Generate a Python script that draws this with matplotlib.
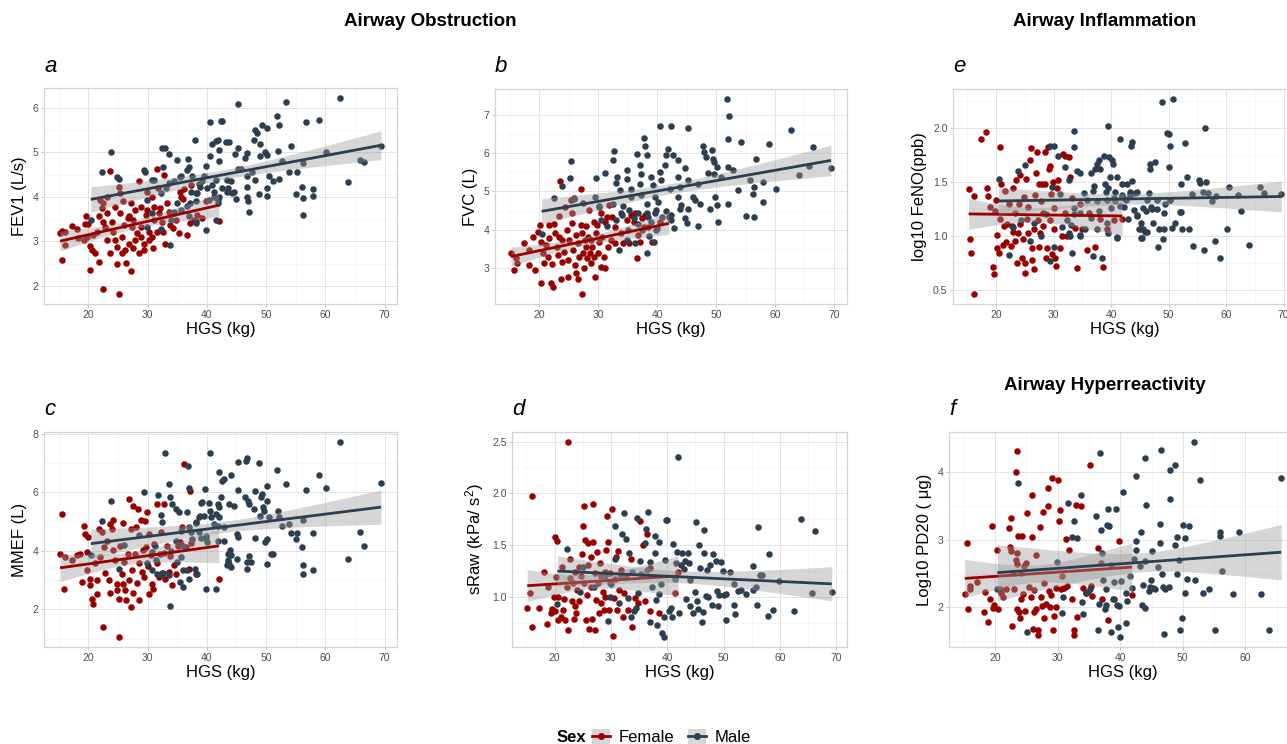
import numpy as np
import matplotlib
matplotlib.use("Agg")
import matplotlib.pyplot as plt
from matplotlib.ticker import MultipleLocator, FormatStrFormatter
from matplotlib.patches import Patch
from matplotlib.lines import Line2D

plt.rcParams['font.family'] = ['Liberation Sans', 'DejaVu Sans']
plt.rcParams['mathtext.fontset'] = 'custom'
plt.rcParams['mathtext.rm'] = 'Liberation Sans'
plt.rcParams['mathtext.it'] = 'Liberation Sans:italic'

female_col = "#990000"
male_col = "#2C3E50"

# (HGS kg, value)
fev1_female = [(15.2,3.18),(15.5,3.24),(16.0,3.22),(15.6,2.58),(16.0,2.92),(17.2,3.35),(18.0,3.27),(18.3,3.07),
    (19.6,3.57),(19.4,3.39),(20.0,3.4),(19.8,3.1),(20.2,2.9),(20.3,2.35),(20.6,2.8),(21.1,2.73),(21.4,3.22),
    (21.7,3.56),(21.8,2.54),(22.4,1.92),(22.3,3.74),(22.5,3.86),(22.8,3.33),(23.1,3.63),(23.2,3.03),(23.7,4.59),
    (23.6,2.73),(24.0,3.44),(24.2,3.22),(24.5,3.03),(24.9,2.5),(25.1,1.81),(25.4,4.08),(25.3,3.63),(25.6,3.1),
    (25.9,3.9),(26.0,3.37),(26.2,2.8),(26.4,2.51),(26.8,2.95),(26.9,3.56),(27.1,2.34),(27.2,3.86),(27.3,3.33),
    (27.5,2.84),(27.9,3.71),(28.2,3.18),(28.5,2.73),(28.6,4.35),(28.8,3.78),(28.9,3.33),(29.3,2.94),(29.4,2.8),
    (29.8,3.59),(29.9,4.12),(30.2,3.22),(30.3,3.03),(30.7,4.0),(30.9,2.84),(31.1,3.48),(31.6,4.62),(31.7,4.2),
    (31.9,3.63),(32.1,3.74),(32.4,3.44),(32.6,3.22),(32.8,4.5),(33.2,3.86),(33.6,3.67),(33.8,3.37),(34.3,3.29),
    (34.7,3.48),(35.3,3.18),(35.5,4.12),(35.7,4.0),(36.0,3.95),(36.1,4.17),(36.7,3.14),(37.1,3.41),(37.4,4.26),
    (37.8,3.48),(38.4,3.59),(39.2,3.52),(39.8,3.9),(42.0,3.45),(22.0,3.93),(23.1,4.0),(25.1,4.23),(24.5,3.78),
    (26.6,3.52),(27.6,3.48),(29.9,3.71),(31.0,3.78),(31.6,3.22),(19.2,3.03),(20.8,3.14),(22.5,3.44),(24.8,2.88),
    (25.6,2.73),(27.9,3.03),(28.9,3.1),(30.7,3.1),(33.0,2.95)]
fev1_male = [(20.4,3.48),(22.3,4.56),(23.8,5.0),(24.9,4.44),(25.2,4.4),(29.3,4.6),(29.5,4.55),(30.8,4.38),
    (29.9,3.93),(32.5,5.11),(33.0,5.1),(32.6,4.68),(33.6,4.96),(33.8,2.92),(35.0,4.82),(35.5,4.45),(35.0,3.86),
    (34.4,3.63),(36.8,4.85),(37.0,4.67),(38.0,5.29),(37.5,4.46),(37.2,3.86),(38.1,4.08),(38.1,3.41),(39.8,3.26),
    (39.8,4.7),(39.5,4.46),(40.5,5.68),(40.5,4.93),(40.8,5.2),(40.8,4.27),(41.6,5.25),(41.6,4.38),(41.8,5.29),
    (42.0,5.06),(42.3,5.71),(42.6,5.7),(42.0,4.8),(42.0,4.0),(42.6,4.2),(43.2,5.24),(43.7,5.24),(43.4,4.38),
    (44.0,4.35),(43.4,4.12),(44.3,4.08),(45.0,3.96),(45.3,6.08),(45.3,5.11),(44.7,4.97),(45.3,4.62),(45.7,4.63),
    (46.4,4.87),(46.7,4.98),(46.7,4.46),(46.8,4.23),(46.8,4.0),(46.9,3.9),(47.1,3.65),(47.7,4.57),(47.9,5.29),
    (48.1,5.51),(48.5,5.44),(49.3,5.62),(49.0,5.19),(49.0,4.91),(48.8,4.06),(48.2,4.38),(49.9,5.0),(50.2,4.94),
    (50.1,5.55),(50.2,4.03),(50.2,4.2),(50.5,4.47),(51.1,4.35),(51.9,5.81),(52.2,5.62),(52.0,5.04),(52.2,4.41),
    (52.7,4.8),(53.4,6.14),(53.8,4.55),(54.2,5.14),(55.0,4.07),(55.3,4.55),(56.0,4.23),(56.2,4.77),(56.3,3.59),
    (56.3,3.97),(56.7,5.68),(58.0,4.18),(58.0,4.02),(59.0,5.73),(60.1,5.0),(62.5,6.23),(63.8,4.34),(65.8,4.82),
    (66.5,4.78),(69.4,5.14),(38.6,4.29),(38.9,4.23),(39.2,4.35),(41.2,4.0),(41.9,3.93),(41.6,3.48),
    (31.1,4.38),(35.6,4.47),(36.7,4.61),(37.3,4.12),(38.4,4.08),(38.2,3.9),(35.6,3.71),(36.7,3.79),(37.0,3.57),
    (38.2,3.45),(34.5,3.67),(33.9,3.48),(29.9,3.33),(30.8,3.63),(32.2,3.27),(40.1,4.2),(41.2,4.12),(40.4,3.93),
    (41.8,3.86),(33.6,4.31),(34.5,4.35),(33.1,4.2),(32.2,4.08),(44.6,4.1),(43.5,4.2)]

fvc_female = [(15.2,3.39),(15.7,2.96),(16.1,3.26),(16.3,3.13),(17.4,3.67),(18.3,3.47),(18.3,3.09),(18.9,3.82),
    (19.3,2.97),(19.7,3.95),(20.2,4.12),(20.3,3.69),(20.3,2.63),(20.6,3.39),(20.8,3.15),(21.1,3.61),(21.5,3.3),
    (21.7,4.12),(21.7,3.78),(22.0,2.63),(22.1,3.11),(22.4,2.52),(22.5,4.16),(22.7,3.91),(23.0,3.56),(23.1,3.35),
    (23.4,3.82),(23.5,5.26),(23.4,4.36),(23.7,2.72),(23.8,3.17),(23.9,3.73),(24.2,3.43),(24.3,4.6),(24.7,3.99),
    (24.8,3.22),(24.9,2.77),(25.1,3.73),(25.3,4.79),(25.5,4.43),(25.6,4.18),(25.8,3.47),(25.9,4.84),(26.0,3.09),
    (26.2,2.87),(26.3,3.86),(26.5,2.72),(26.6,3.65),(26.7,3.3),(27.0,5.07),(27.0,4.12),(27.2,2.33),(27.3,3.91),
    (27.5,3.39),(27.6,3.0),(27.7,3.75),(27.9,3.56),(28.0,4.1),(28.1,3.26),(28.3,3.82),(28.4,4.51),(28.6,3.39),
    (28.7,3.13),(28.8,3.73),(29.0,3.56),(29.2,4.21),(29.3,3.3),(29.4,2.78),(29.6,3.91),(29.8,4.12),(29.9,3.39),
    (30.1,3.69),(30.4,3.04),(30.5,4.43),(30.7,3.82),(30.9,3.3),(31.1,4.21),(31.2,3.02),(31.5,4.34),(31.7,3.56),
    (31.8,4.64),(32.1,3.73),(32.4,4.34),(32.8,4.08),(32.9,3.65),(33.8,3.91),(34.2,3.65),(34.9,4.25),(35.2,3.65),
    (35.5,4.38),(36.0,4.21),(36.5,3.28),(36.7,3.86),(37.1,3.69),(37.4,4.3),(37.8,4.08),(38.5,4.08),(39.1,3.69),
    (42.0,4.35),(40.5,4.2),(38.0,4.4),(36.2,4.45)]
fvc_male = [(20.4,3.9),(22.5,4.83),(23.9,5.14),(25.4,5.79),(25.2,5.36),(25.9,4.81),(29.6,5.36),(29.4,4.86),
    (30.1,4.62),(31.1,5.48),(32.6,6.04),(32.5,5.83),(33.2,5.38),(33.1,5.22),(32.5,4.68),(33.75,5.05),(34.2,4.62),
    (33.9,4.43),(33.6,3.49),(34.9,5.57),(34.8,5.33),(35.5,5.07),(35.6,4.86),(35.3,4.51),(36.6,5.98),(37.1,5.7),
    (37.3,5.46),(37.1,5.2),(37.3,4.9),(36.7,4.43),(37.8,6.4),(38.0,6.17),(38.2,5.94),(38.2,4.68),(38.3,3.4),
    (38.4,4.34),(39.0,5.38),(39.3,5.16),(39.6,4.86),(39.8,4.53),(40.4,6.7),(40.4,5.5),(40.7,5.29),(40.1,4.72),
    (39.7,4.43),(39.8,4.0),(41.8,6.11),(41.5,5.94),(41.3,5.68),(42.1,5.07),(42.4,6.69),(42.7,5.94),(42.8,4.04),
    (42.4,4.38),(43.5,5.81),(43.6,5.38),(43.8,5.12),(43.6,4.86),(44.1,4.64),(44.7,5.6),(45.3,6.65),(45.2,5.31),
    (45.1,4.17),(45.2,4.55),(46.0,4.86),(46.4,4.79),(46.9,5.2),(47.2,4.68),(46.9,4.1),(47.7,6.17),(48.0,6.02),
    (48.3,5.89),(48.6,5.48),(48.9,4.55),(49.3,6.08),(49.4,5.85),(49.7,5.76),(50.2,5.63),(49.8,4.86),(50.2,4.64),
    (49.7,5.46),(50.4,4.22),(50.8,5.38),(51.8,7.41),(52.1,6.37),(52.2,6.95),(52.1,5.63),(52.1,4.67),(52.9,5.57),
    (53.8,5.03),(54.2,6.29),(55.1,4.36),(55.8,5.29),(56.2,4.93),(56.4,5.12),(56.8,5.85),(56.4,4.34),(58.0,5.25),
    (58.0,4.72),(59.0,6.23),(60.1,5.07),(62.7,6.6),(64.0,5.44),(65.8,5.66),(66.4,6.15),(69.5,5.62),
    (33.0,4.25),(34.0,4.4),(35.0,4.0),(36.0,4.3),(36.8,4.15),(37.5,4.0),(38.2,4.45),(39.0,4.2),(40.0,4.05),
    (40.8,4.35),(41.5,4.5),(42.3,4.25),(30.5,4.25),(31.5,4.1),(34.8,3.75),(36.2,3.65),(38.7,3.85),(39.5,3.7),
    (30.2,4.6),(27.5,4.7),(43.8,4.55),(44.8,4.3)]

mmef_female = [(15.2,3.88),(15.6,5.26),(15.8,2.68),(16.0,3.79),(17.2,3.68),(18.0,3.87),(18.6,3.88),(18.9,2.94),
    (19.2,4.83),(19.4,4.56),(19.7,3.96),(19.8,3.34),(20.0,4.47),(20.2,3.02),(20.3,2.83),(20.6,2.37),(20.7,2.18),
    (21.1,3.58),(21.4,2.54),(21.5,3.0),(21.7,4.75),(22.0,3.79),(22.3,4.64),(22.4,1.41),(22.7,4.13),(22.8,3.25),
    (23.2,4.35),(23.4,3.0),(23.6,2.57),(23.7,4.9),(24.0,4.75),(24.1,5.06),(24.2,4.01),(24.5,3.68),(24.8,2.86),
    (24.9,2.66),(25.1,1.05),(25.1,2.37),(25.4,4.15),(25.6,3.22),(25.8,2.88),(25.9,4.94),(26.0,3.62),(26.2,2.66),
    (26.4,2.32),(26.6,3.9),(26.8,3.0),(26.9,5.77),(27.1,2.09),(27.2,4.75),(27.3,3.34),(27.5,5.54),(27.6,2.57),
    (27.9,3.9),(28.1,4.81),(28.2,2.91),(28.3,5.43),(28.5,2.32),(28.6,3.58),(28.8,5.06),(29.0,3.28),(29.2,4.01),
    (29.4,3.11),(29.6,5.0),(29.8,4.13),(29.9,5.32),(30.0,3.47),(30.2,2.54),(30.3,4.58),(30.5,3.85),(30.7,2.88),
    (30.9,2.71),(31.1,4.24),(31.5,3.58),(31.6,5.58),(31.9,3.11),(32.0,3.9),(32.3,4.64),(32.5,3.25),(32.8,5.58),
    (33.0,3.02),(33.3,4.18),(33.6,3.28),(33.8,3.81),(34.1,2.83),(34.4,3.51),(34.7,3.22),(35.1,4.18),(35.5,4.3),
    (35.8,4.81),(36.1,6.96),(36.4,4.13),(37.0,3.37),(37.2,6.05),(37.3,4.26),(38.1,3.22),(42.0,3.05)]
mmef_male = [(20.4,3.85),(22.3,5.01),(23.8,5.69),(25.1,3.39),(29.3,6.0),(29.9,3.58),(30.7,3.96),(31.3,4.18),
    (31.7,5.92),(32.3,5.23),(32.4,4.98),(32.6,3.25),(32.9,7.32),(33.6,6.28),(33.7,5.85),(33.7,2.11),(34.1,5.6),
    (34.7,5.43),(35.0,3.62),(35.3,5.32),(35.4,2.94),(36.0,2.77),(36.0,4.15),(36.8,6.9),(37.0,6.14),(37.0,4.81),
    (37.5,4.41),(38.0,3.39),(38.1,4.94),(38.6,5.15),(38.9,5.2),(39.2,5.66),(39.7,6.11),(39.8,2.68),(39.8,4.41),
    (40.3,5.62),(40.5,5.37),(40.6,7.35),(40.7,5.15),(41.2,4.92),(41.5,5.26),(41.6,2.71),(41.8,5.6),(42.0,6.7),
    (42.0,5.49),(42.1,5.15),(42.3,5.83),(42.6,6.37),(42.9,6.45),(43.4,3.51),(43.6,3.62),(43.7,5.6),(43.9,4.01),
    (44.0,3.85),(44.1,6.6),(44.1,3.45),(44.6,5.54),(45.1,3.73),(45.1,4.56),(45.3,6.08),(45.3,7.02),(46.4,5.85),
    (46.6,7.07),(46.8,7.16),(46.7,3.62),(46.8,3.37),(46.9,5.71),(47.1,5.6),(47.1,3.81),(47.5,3.62),(47.9,5.43),
    (48.1,6.05),(48.2,4.44),(48.8,6.98),(48.9,5.2),(49.1,5.85),(49.3,5.94),(49.4,5.49),(49.7,5.35),(49.9,4.3),
    (50.1,6.22),(50.2,5.69),(50.1,3.56),(50.2,4.41),(50.5,5.15),(50.8,3.9),(51.1,3.9),(51.9,6.75),(52.0,5.37),
    (52.2,5.15),(52.7,4.86),(53.4,6.28),(53.8,4.9),(54.2,4.6),(55.0,4.41),(55.3,4.6),(56.0,4.13),(56.2,5.06),
    (56.3,3.2),(56.3,3.51),(56.7,6.08),(58.0,4.6),(58.0,3.36),(59.0,6.6),(60.1,6.14),(62.5,7.72),(63.8,3.73),
    (65.8,4.64),(66.5,4.16),(69.4,6.3),
    (36.7,5.31),(39.0,5.62),(38.1,4.97),(39.5,5.2),(35.6,4.69),(37.3,4.63),(38.7,4.63),(39.8,4.52),(39.0,4.45),
    (40.1,4.3),(34.7,4.35),(33.9,4.0),(32.7,3.93),(31.4,3.67),(35.6,3.78),(36.7,3.33),(36.0,3.33),(31.6,3.22),
    (30.7,3.33),(32.2,3.16),(33.6,3.16),(37.0,3.05),(38.4,3.22),(41.8,4.35),(42.9,4.35),(43.5,3.67),(43.8,3.56),
    (45.2,4.46),(43.5,3.9),(41.8,4.86),(42.9,4.8),(26.0,4.2),(28.5,4.55)]

sraw_female = [(15.15,0.89),(15.6,1.04),(16.0,0.71),(16.0,1.98),(17.3,0.89),(18.2,1.24),(18.7,0.74),(18.9,1.1),
    (19.3,0.84),(19.5,0.88),(19.9,1.0),(20.0,1.58),(20.1,0.86),(20.3,1.19),(20.5,1.54),(20.6,1.0),(20.7,0.78),
    (21.1,0.81),(21.3,1.29),(21.5,0.87),(21.7,0.98),(21.9,0.78),(22.2,1.1),(22.4,0.68),(22.4,2.5),(22.7,1.37),
    (22.8,1.18),(23.1,0.96),(23.3,1.13),(23.4,0.79),(23.6,0.91),(23.7,1.24),(23.8,0.84),(24.0,1.07),(24.3,1.29),
    (24.4,0.96),(24.7,1.2),(24.9,1.41),(25.0,1.69),(25.2,1.88),(25.3,1.13),(25.4,1.55),(25.6,0.78),(25.8,1.02),
    (25.9,1.31),(26.0,1.52),(26.2,0.69),(26.4,1.1),(26.5,1.39),(26.7,0.79),(26.8,1.9),(26.9,1.53),(27.1,1.23),
    (27.2,0.68),(27.4,0.97),(27.6,1.43),(27.7,1.13),(27.9,0.84),(28.0,1.33),(28.2,0.94),(28.3,1.2),(28.6,1.05),
    (28.8,0.87),(28.9,1.24),(29.0,1.0),(29.2,1.45),(29.3,1.78),(29.5,1.53),(29.6,0.87),(29.8,1.13),(29.9,1.23),
    (30.2,1.85),(30.3,0.62),(30.5,0.99),(30.7,1.17),(30.9,1.39),(31.1,0.87),(31.2,1.44),(31.5,1.07),(31.8,1.26),
    (32.1,0.81),(32.4,1.04),(32.7,1.2),(33.0,0.87),(33.5,1.37),(33.7,0.71),(34.2,0.99),(34.8,0.94),(35.1,1.73),
    (35.7,1.5),(36.0,0.96),(36.4,1.61),(36.9,1.28),(37.0,0.86),(38.5,0.84),(41.3,1.04),(41.9,1.24)]
sraw_male = [(20.5,0.93),(22.2,1.46),(25.0,1.29),(28.9,1.2),(29.5,0.77),(29.8,1.0),(30.7,1.37),(30.8,1.69),
    (31.5,0.94),(31.8,1.2),(32.0,1.61),(32.4,1.81),(32.6,1.56),(33.0,0.99),(33.2,1.42),(33.6,0.81),(33.7,1.24),
    (34.1,0.86),(34.4,0.89),(34.6,1.76),(34.8,1.04),(35.1,1.35),(35.3,1.22),(36.0,1.52),(36.2,1.66),(36.4,1.26),
    (36.6,1.82),(36.9,0.76),(37.0,1.34),(37.3,1.1),(37.8,1.59),(37.9,1.42),(38.0,0.97),(38.2,0.73),(38.5,1.03),
    (38.6,1.53),(38.9,1.12),(39.1,0.65),(39.4,0.61),(39.5,0.81),(39.6,1.36),(39.7,1.74),(40.0,1.74),(40.3,0.86),
    (40.6,0.89),(40.9,0.81),(41.1,1.51),(41.3,1.17),(41.6,1.33),(41.8,1.43),(41.9,2.35),(42.0,0.84),(42.4,1.31),
    (42.6,1.42),(42.9,1.27),(43.1,1.35),(43.4,0.98),(43.7,1.42),(43.8,1.33),(44.0,1.16),(44.1,0.91),(44.6,0.84),
    (45.0,1.05),(45.1,1.72),(45.3,0.96),(45.4,0.88),(45.6,1.5),(45.9,1.28),(46.2,0.76),(46.3,0.85),(46.5,1.65),
    (46.6,1.42),(46.8,1.01),(47.0,1.26),(47.2,1.0),(47.5,1.31),(47.9,0.92),(48.1,1.41),(48.6,1.35),(48.9,1.06),
    (49.0,0.91),(49.2,1.02),(49.6,1.34),(49.9,1.25),(50.1,1.02),(50.4,1.03),(50.5,0.78),(51.1,1.24),(51.8,1.12),
    (51.9,0.92),(52.1,0.83),(52.5,1.06),(53.1,1.07),(54.0,1.03),(55.2,1.07),(55.3,1.3),(55.8,1.1),(55.9,0.92),
    (56.1,1.68),(56.4,1.21),(56.8,1.21),(57.9,0.82),(58.0,1.41),(58.8,0.87),(59.9,1.15),(62.5,0.86),(63.7,1.75),
    (65.7,1.04),(66.3,1.64),(69.2,1.05),(27.0,1.1),(24.5,1.05),(30.0,1.12)]

feno_female = [(15.2,1.43),(15.5,0.97),(15.6,0.84),(16.1,0.46),(16.2,1.37),(17.3,1.9),(18.3,1.96),(18.4,1.44),
    (18.6,1.37),(19.0,1.27),(19.4,0.71),(19.6,0.65),(19.7,1.23),(20.0,1.33),(20.1,0.89),(20.2,1.01),(20.4,0.84),
    (20.6,1.82),(20.7,1.16),(20.9,1.48),(21.1,0.92),(21.3,1.09),(21.6,1.42),(21.7,0.94),(21.9,1.11),(22.3,1.3),
    (22.6,0.91),(22.7,1.09),(22.9,1.44),(23.0,1.04),(23.2,1.21),(23.3,0.95),(23.5,1.52),(23.6,0.75),(23.7,1.03),
    (23.9,1.3),(24.1,1.56),(24.2,1.11),(24.5,0.8),(24.6,0.97),(24.9,1.36),(25.0,0.66),(25.0,0.75),(25.2,1.53),
    (25.3,1.16),(25.5,1.03),(25.6,1.27),(25.9,1.7),(26.0,1.81),(26.2,0.78),(26.3,0.89),(26.5,1.06),(26.6,0.69),
    (26.8,1.38),(27.0,1.58),(27.1,1.78),(27.2,1.15),(27.4,0.9),(27.5,1.48),(27.7,1.03),(27.8,1.32),(27.9,1.48),
    (28.1,1.21),(28.2,1.09),(28.4,1.48),(28.5,1.78),(28.7,0.8),(28.8,0.89),(29.0,1.82),(29.1,1.62),(29.3,1.15),
    (29.4,1.65),(29.5,1.39),(29.7,0.83),(29.9,1.5),(30.0,1.06),(30.1,1.26),(30.3,0.8),(30.4,0.72),(30.6,1.44),
    (30.8,1.52),(31.1,0.89),(31.4,1.0),(31.6,1.76),(31.9,1.74),(32.0,1.21),(32.3,1.0),(32.6,1.73),(32.8,1.55),
    (33.2,1.35),(33.7,1.07),(34.0,0.7),(34.5,1.3),(34.9,1.06),(35.8,0.87),(36.2,1.21),(37.2,0.9),(38.1,1.16),
    (38.6,0.71),(39.3,1.06),(40.4,1.15),(41.9,1.16)]
feno_male = [(20.4,1.53),(22.3,0.82),(23.7,1.6),(25.0,1.66),(29.4,1.83),(30.0,1.83),(30.0,0.9),(29.3,0.77),
    (30.8,1.74),(32.0,1.64),(32.6,1.52),(32.8,1.0),(33.1,0.84),(33.6,1.97),(33.6,1.82),(34.0,1.6),(34.6,1.58),
    (34.6,1.0),(35.3,1.4),(35.5,1.06),(36.5,1.58),(36.9,1.42),(36.9,0.81),(37.2,1.62),(37.5,1.67),(37.8,1.7),
    (38.1,1.62),(38.4,0.8),(38.7,1.74),(39.0,1.48),(39.1,1.41),(39.4,2.02),(39.5,1.44),(39.5,1.03),(39.7,1.73),
    (39.8,1.55),(40.1,1.7),(40.3,1.67),(40.6,1.32),(41.0,1.55),(41.0,0.99),(41.5,1.9),(41.9,1.38),(42.2,1.27),
    (42.4,1.34),(42.7,1.48),(42.9,1.16),(43.3,1.41),(43.4,1.83),(43.6,1.51),(43.7,1.87),(43.9,1.24),(44.2,1.4),
    (44.5,1.19),(44.8,1.06),(45.1,1.12),(45.2,0.98),(45.5,1.26),(45.6,1.06),(45.9,1.04),(46.2,1.33),(46.5,1.4),
    (46.7,1.67),(46.8,1.62),(47.1,1.25),(47.3,1.12),(47.7,1.68),(48.0,1.33),(48.2,0.9),(48.4,1.06),(48.8,2.24),
    (49.0,0.97),(49.1,1.21),(49.4,1.3),(49.7,1.95),(50.0,1.94),(50.2,1.83),(50.0,1.64),(50.3,1.33),(50.6,1.07),
    (50.7,2.27),(51.1,1.12),(51.9,1.22),(52.2,1.48),(52.3,1.06),(52.8,1.86),(53.5,1.06),(54.0,1.39),(54.3,0.91),
    (55.2,1.52),(55.5,1.49),(56.0,1.41),(56.1,0.87),(56.4,2.0),(56.5,1.5),(56.9,1.4),(58.1,0.95),(58.3,1.37),
    (59.0,0.8),(60.1,1.06),(62.6,1.23),(63.9,0.92),(65.9,1.45),(66.5,1.4),(69.6,1.39),
    (29.7,1.45),(31.1,1.39),(37.0,1.46),(40.7,1.41),(41.9,1.48),(43.3,1.38),(44.5,1.41),(35.8,1.33),(37.5,1.32),
    (39.3,1.33),(40.5,1.35),(41.9,1.36),(42.6,1.33),(33.5,1.26),(34.6,1.21),(36.4,1.17),(37.8,1.23),(39.9,1.26),
    (41.6,1.28),(33.5,1.2),(32.3,1.15),(33.0,1.1),(32.6,1.03),(34.6,1.01),(37.5,1.06),(39.3,1.12),(41.0,0.98),
    (44.5,1.18),(46.0,1.23),(46.9,1.27),(48.0,1.25),(50.3,1.33),(45.1,1.06),(46.3,1.04),(49.2,1.06),(45.4,0.98),
    (52.1,1.22),(24.3,1.15),(26.5,1.12),(27.8,1.0),(28.6,1.2),(31.5,1.08),(25.8,0.95),(23.0,1.08),
    (57.5,1.32),(60.5,1.45),(53.2,1.55),(62.0,1.38)]

pd20_female = [(15.2,2.2),(15.6,2.96),(15.7,1.98),(16.0,2.32),(16.1,2.27),(17.2,2.38),(18.2,1.93),(18.4,2.23),
    (18.9,1.78),(19.2,2.12),(19.6,3.2),(19.7,1.99),(19.9,2.03),(20.3,2.85),(20.5,1.97),(20.8,2.28),(21.0,2.22),
    (21.3,2.16),(21.7,2.27),(22.2,3.17),(22.4,2.89),(22.5,2.84),(22.6,3.32),(22.8,1.72),(22.9,2.51),(23.0,2.28),
    (23.3,4.0),(23.5,4.31),(23.3,2.7),(23.5,2.65),(23.6,2.8),(23.6,1.97),(23.7,3.06),(23.8,1.93),(24.0,1.85),
    (24.1,2.51),(24.2,2.12),(24.4,3.06),(24.5,2.2),(24.7,2.62),(24.8,1.95),(24.9,2.66),(25.2,3.4),(25.4,2.31),
    (25.7,2.15),(25.9,3.67),(25.9,3.04),(26.1,1.68),(26.2,1.93),(26.3,2.26),(26.5,2.77),(26.6,1.98),(26.9,1.67),
    (26.9,1.6),(27.2,3.19),(27.4,2.15),(27.6,2.02),(27.7,3.41),(27.8,1.85),(27.9,2.36),(28.2,2.05),(28.4,3.5),
    (28.5,3.77),(28.6,2.24),(28.8,2.0),(29.0,2.18),(29.1,3.92),(29.3,1.66),(29.4,1.88),(29.7,2.29),(29.8,2.0),
    (30.1,3.89),(30.2,3.28),(30.4,3.44),(30.5,2.27),(30.7,2.46),(31.0,2.29),(31.3,3.01),(31.5,2.32),(31.8,2.85),
    (32.3,2.12),(32.6,1.66),(32.7,1.6),(32.9,3.51),(33.1,1.86),(33.7,3.5),(34.1,2.29),(34.6,2.22),(35.2,4.11),
    (35.4,2.32),(35.5,2.17),(36.4,2.88),(36.9,2.66),(37.1,2.12),(38.0,1.82),(39.0,2.13),(39.8,2.98),(41.9,2.18)]
pd20_male = [(20.4,2.27),(23.7,3.84),(25.2,1.63),(29.9,2.67),(30.7,1.92),(30.9,2.16),(31.7,3.54),(32.3,3.04),
    (32.7,3.28),(33.1,3.02),(33.7,3.66),(33.9,2.08),(34.1,1.9),(34.5,2.22),(34.8,2.23),(35.2,2.27),(36.1,3.35),
    (36.4,1.66),(36.6,2.05),(36.8,4.28),(36.9,3.14),(37.1,2.8),(37.3,2.41),(37.5,1.97),(37.7,2.03),(37.8,2.28),
    (37.9,3.22),(38.0,3.45),(38.2,3.21),(38.5,2.63),(38.6,1.64),(38.9,2.12),(39.0,2.37),(39.3,3.46),(39.5,2.03),
    (39.6,1.71),(39.8,2.02),(40.0,1.56),(40.2,2.39),(40.5,3.71),(40.9,2.22),(41.0,1.77),(41.1,2.1),(41.5,2.46),
    (41.9,2.29),(42.2,2.71),(42.5,2.85),(42.6,2.99),(42.6,3.95),(43.2,2.61),(43.4,3.12),(43.5,2.03),(43.7,2.33),
    (43.9,1.99),(43.9,4.21),(44.0,2.68),(44.2,3.51),(44.6,2.24),(44.8,2.31),(44.9,2.41),(45.1,2.84),(45.3,2.29),
    (45.6,2.27),(46.0,2.6),(46.3,3.23),(46.4,2.96),(46.5,4.33),(46.7,2.49),(46.9,2.3),(47.0,1.61),(47.1,2.27),
    (47.8,2.3),(47.9,3.61),(48.0,4.03),(48.7,4.1),(48.8,2.93),(49.1,3.04),(49.0,2.49),(49.4,2.7),(49.5,1.67),
    (49.9,1.84),(50.1,3.22),(50.3,3.02),(50.4,2.22),(50.6,2.42),(51.0,3.2),(51.8,4.45),(52.0,2.41),(52.7,3.88),
    (53.2,2.22),(54.1,2.28),(55.2,1.67),(55.9,3.11),(56.0,3.05),(56.3,2.54),(58.0,2.2),(58.9,3.12),(62.4,2.2),
    (63.7,1.66),(65.7,3.91)]

# panel: letter, y label, data, axes box in pixels (left, top, right, bottom), y major / minor step, tick format
panels = [
    ("a", "FEV1 (L/s)", fev1_female, fev1_male, (44, 88, 397, 304), 1, 0.5, "%d"),
    ("b", "FVC (L)", fvc_female, fvc_male, (495, 89, 847, 304), 1, 0.5, "%d"),
    ("e", "log10 FeNO(ppb)", feno_female, feno_male, (953, 89, 1297, 304), 0.5, 0.25, "%.1f"),
    ("c", "MMEF (L)", mmef_female, mmef_male, (44, 432, 397, 647), 2, 1, "%d"),
    ("d", "sRaw (kPa/ s$^2$)", sraw_female, sraw_male, (512, 432, 847, 647), 0.5, 0.25, "%.1f"),
    ("f", "Log10 PD20 ( \u03bcg)", pd20_female, pd20_male, (949, 432, 1297, 647), 1, 0.5, "%d"),
]

W, H = 1287, 744
fig = plt.figure(figsize=(W / 100, H / 100), dpi=100)


def lm_band(x, y, grid):
    b1, b0 = np.polyfit(x, y, 1)
    fit = b0 + b1 * grid
    resid = y - (b0 + b1 * x)
    n = len(x)
    s = np.sqrt(np.sum(resid ** 2) / (n - 2))
    se = s * np.sqrt(1 / n + (grid - x.mean()) ** 2 / np.sum((x - x.mean()) ** 2))
    return fit, fit - 1.97 * se, fit + 1.97 * se


for letter, ylab, fem, mal, box, ymaj, ymin, fmt in panels:
    l, t, r, b = box
    ax = fig.add_axes([l / W, 1 - b / H, (r - l) / W, (b - t) / H])
    fx, fy = np.array(fem).T
    mx, my = np.array(mal).T
    allx = np.concatenate([fx, mx])
    ally = np.concatenate([fy, my])
    xr = allx.max() - allx.min()
    yr = ally.max() - ally.min()
    ax.set_xlim(allx.min() - 0.05 * xr, allx.max() + 0.05 * xr)
    ax.set_ylim(ally.min() - 0.05 * yr, ally.max() + 0.05 * yr)

    ax.scatter(fx, fy, s=22, color=female_col, linewidths=0, zorder=2)
    ax.scatter(mx, my, s=22, color=male_col, linewidths=0, zorder=2)
    z = 3
    for x, y, col in [(fx, fy, female_col), (mx, my, male_col)]:
        grid = np.linspace(x.min(), x.max(), 80)
        fit, lo, hi = lm_band(x, y, grid)
        ax.fill_between(grid, lo, hi, color="#999999", alpha=0.4, linewidth=0, zorder=z)
        ax.plot(grid, fit, color=col, lw=2, solid_capstyle="butt", zorder=z + 1)
        z += 2

    ax.xaxis.set_major_locator(MultipleLocator(10))
    ax.xaxis.set_minor_locator(MultipleLocator(5))
    ax.yaxis.set_major_locator(MultipleLocator(ymaj))
    ax.yaxis.set_minor_locator(MultipleLocator(ymin))
    ax.yaxis.set_major_formatter(FormatStrFormatter(fmt))
    ax.grid(which="major", color="#E3E3E3", lw=0.7, zorder=0)
    ax.grid(which="minor", color="#EFEFEF", lw=0.4, zorder=0)
    ax.set_axisbelow(True)
    for sp in ax.spines.values():
        sp.set_color("#D4D4D4")
        sp.set_linewidth(0.9)
    ax.tick_params(which="major", length=2, width=0.6, color="#BDBDBD",
                   labelsize=7.5, labelcolor="#4D4D4D", pad=2)
    ax.tick_params(which="minor", length=0)
    ax.set_xlabel("HGS (kg)", fontsize=12, labelpad=2)
    ax.set_ylabel(ylab, fontsize=12, labelpad=4)

    fig.text(l / W, 1 - (t - 22) / H, letter, fontsize=16, style="italic",
             ha="left", va="center")

fig.text(430 / W, 1 - 22 / H, "Airway Obstruction", fontsize=13.5, fontweight="bold",
         ha="center", va="center")
fig.text(1105 / W, 1 - 22 / H, "Airway Inflammation", fontsize=13.5, fontweight="bold",
         ha="center", va="center")
fig.text(1105 / W, 1 - 385 / H, "Airway Hyperreactivity", fontsize=13.5, fontweight="bold",
         ha="center", va="center")

# legend along the bottom
fig.text(557 / W, 1 - 737 / H, "Sex", fontsize=12, fontweight="bold", ha="left", va="center")
handles = []
for col in [female_col, male_col]:
    handles.append((Patch(facecolor="#D6D6D6", edgecolor="none"),
                    Line2D([], [], color=col, lw=2, marker="o", markersize=4)))
fig.legend(handles, ["Female", "Male"], loc="center left", bbox_to_anchor=(592 / W, 1 - 737 / H),
           ncol=2, frameon=False, fontsize=12, handlelength=1.1, handleheight=1.1,
           handletextpad=0.5, columnspacing=0.8, borderpad=0, borderaxespad=0)

fig.savefig("out.png", dpi=100)
